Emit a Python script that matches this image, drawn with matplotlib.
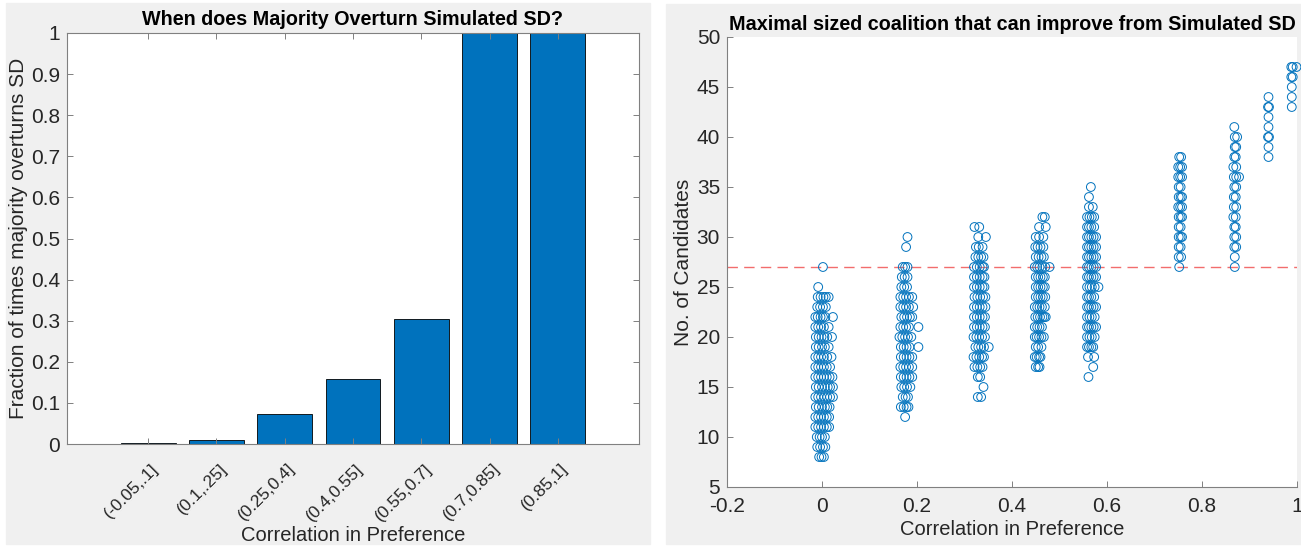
import numpy as np
import matplotlib
matplotlib.use("Agg")
import matplotlib.pyplot as plt
from matplotlib.patches import Rectangle
from matplotlib.transforms import ScaledTranslation

plt.rcParams['font.family'] = ['Liberation Sans', 'DejaVu Sans']

# left chart: fraction of times majority overturns SD
bins = ['(-0.05,.1]', '(0.1,.25]', '(0.25,0.4]', '(0.4,0.55]',
        '(0.55,0.7]', '(0.7,0.85]', '(0.85,1]']
frac = [0.0025, 0.009, 0.072, 0.158, 0.303, 1.0, 1.0]

# right chart: (candidates, [correlation values]) rows per cluster
c1 = [(8, [-0.006, -0.001, 0.004]),
      (9, [-0.010, -0.004, 0.002, 0.007]),
      (10, [-0.011, -0.005, 0.000, 0.006]),
      (11, [-0.014, -0.008, -0.002, 0.004, 0.010, 0.015]),
      (12, [-0.014, -0.008, -0.002, 0.004, 0.010, 0.015]),
      (13, [-0.013, -0.007, 0.000, 0.006, 0.011, 0.016]),
      (14, [-0.014, -0.008, -0.002, 0.005, 0.011, 0.017, 0.023]),
      (15, [-0.013, -0.007, 0.000, 0.006, 0.012, 0.017, 0.023]),
      (16, [-0.014, -0.008, -0.002, 0.004, 0.010, 0.016, 0.022]),
      (17, [-0.014, -0.008, -0.002, 0.004, 0.010, 0.017]),
      (18, [-0.014, -0.008, -0.002, 0.004, 0.011, 0.020]),
      (19, [-0.013, -0.007, 0.000, 0.006, 0.014]),
      (20, [-0.013, -0.007, -0.001, 0.005, 0.011, 0.021]),
      (21, [-0.014, -0.008, -0.002, 0.004, 0.014]),
      (22, [-0.014, -0.009, -0.003, 0.002, 0.007, 0.023]),
      (23, [-0.010, -0.004, 0.002, 0.008]),
      (24, [-0.009, -0.003, 0.003, 0.008, 0.014]),
      (25, [-0.008]),
      (27, [0.002])]
c2 = [(12, [0.175]),
      (13, [0.166, 0.172, 0.178, 0.182]),
      (14, [0.170, 0.176, 0.181]),
      (15, [0.167, 0.173, 0.179, 0.186]),
      (16, [0.166, 0.172, 0.178, 0.184, 0.190]),
      (17, [0.165, 0.171, 0.177, 0.183, 0.190]),
      (18, [0.166, 0.172, 0.178, 0.184, 0.190]),
      (19, [0.166, 0.172, 0.178, 0.184, 0.203]),
      (20, [0.163, 0.169, 0.175, 0.181, 0.188]),
      (21, [0.165, 0.171, 0.177, 0.183, 0.203]),
      (22, [0.167, 0.173, 0.179, 0.185, 0.190]),
      (23, [0.165, 0.171, 0.177, 0.183, 0.192]),
      (24, [0.165, 0.171, 0.177, 0.183, 0.190]),
      (25, [0.167, 0.173, 0.179]),
      (26, [0.168, 0.174, 0.180]),
      (27, [0.170, 0.175, 0.180]),
      (29, [0.177]),
      (30, [0.180])]
c3 = [(14, [0.328, 0.335]),
      (15, [0.340]),
      (16, [0.328, 0.333]),
      (17, [0.321, 0.327, 0.333, 0.338]),
      (18, [0.319, 0.325, 0.331, 0.337, 0.341]),
      (19, [0.323, 0.329, 0.335, 0.341, 0.351]),
      (20, [0.319, 0.325, 0.331, 0.337, 0.343]),
      (21, [0.320, 0.326, 0.332, 0.338, 0.343]),
      (22, [0.320, 0.326, 0.332, 0.338, 0.343]),
      (23, [0.320, 0.326, 0.332, 0.338, 0.344]),
      (24, [0.321, 0.327, 0.333, 0.339, 0.344]),
      (25, [0.320, 0.326, 0.332, 0.338, 0.342]),
      (26, [0.320, 0.326, 0.332, 0.338, 0.342]),
      (27, [0.320, 0.326, 0.332, 0.338, 0.341]),
      (28, [0.323, 0.329, 0.335, 0.340]),
      (29, [0.324, 0.330, 0.338]),
      (30, [0.329, 0.345]),
      (31, [0.321, 0.331])]
c4 = [(17, [0.450, 0.455, 0.458]),
      (18, [0.448, 0.452, 0.457, 0.460]),
      (19, [0.450, 0.455, 0.462]),
      (20, [0.448, 0.452, 0.457, 0.462, 0.467]),
      (21, [0.448, 0.453, 0.458, 0.463]),
      (22, [0.449, 0.454, 0.459, 0.464, 0.468, 0.471]),
      (23, [0.448, 0.453, 0.458, 0.463, 0.469]),
      (24, [0.450, 0.455, 0.460, 0.465, 0.470]),
      (25, [0.450, 0.455, 0.460, 0.465, 0.469]),
      (26, [0.450, 0.455, 0.460, 0.465, 0.469]),
      (27, [0.448, 0.453, 0.458, 0.464, 0.470, 0.479]),
      (28, [0.450, 0.456, 0.462, 0.467]),
      (29, [0.449, 0.454, 0.460, 0.466]),
      (30, [0.450, 0.457, 0.466]),
      (31, [0.457, 0.471]),
      (32, [0.464, 0.469])]
c5 = [(16, [0.561]),
      (17, [0.571]),
      (18, [0.560, 0.573]),
      (19, [0.558, 0.562, 0.567, 0.571]),
      (20, [0.558, 0.563, 0.568, 0.574]),
      (21, [0.558, 0.562, 0.567, 0.572, 0.577]),
      (22, [0.558, 0.563, 0.568, 0.574]),
      (23, [0.558, 0.562, 0.567, 0.572, 0.577]),
      (24, [0.558, 0.562, 0.567, 0.573]),
      (25, [0.558, 0.563, 0.568, 0.574, 0.582]),
      (26, [0.558, 0.562, 0.567, 0.572, 0.577]),
      (27, [0.558, 0.562, 0.567, 0.572, 0.577]),
      (28, [0.558, 0.562, 0.567, 0.572, 0.577]),
      (29, [0.558, 0.562, 0.567, 0.572, 0.577]),
      (30, [0.558, 0.562, 0.567, 0.572, 0.577]),
      (31, [0.558, 0.562, 0.567, 0.573]),
      (32, [0.558, 0.563, 0.568, 0.573]),
      (33, [0.562, 0.570]),
      (34, [0.562]),
      (35, [0.566])]
c6 = [(27, [0.752]), (28, [0.751, 0.756]), (29, [0.751, 0.755]),
      (30, [0.751, 0.755, 0.758]), (31, [0.751, 0.755]),
      (32, [0.751, 0.755, 0.758]), (33, [0.750, 0.754, 0.758]),
      (34, [0.751, 0.755, 0.758]), (35, [0.751, 0.755]),
      (36, [0.750, 0.754, 0.758]), (37, [0.750, 0.754, 0.758]),
      (38, [0.752, 0.756])]
c7 = [(27, [0.869]), (28, [0.869]), (29, [0.868, 0.872]),
      (30, [0.868, 0.872]), (31, [0.868, 0.871]), (32, [0.866, 0.871]),
      (33, [0.867, 0.872]), (34, [0.867, 0.871]), (35, [0.868, 0.872]),
      (36, [0.867, 0.872, 0.878]), (37, [0.866, 0.872]),
      (38, [0.868, 0.871]), (39, [0.869, 0.872]), (40, [0.869, 0.874]),
      (41, [0.868])]
c8 = [(38, [0.940]), (39, [0.940]), (40, [0.939, 0.941]), (41, [0.940]),
      (42, [0.940]), (43, [0.939, 0.941]), (44, [0.940])]
c9 = [(43, [0.989]), (44, [0.989]), (45, [0.989]), (46, [0.988, 0.991]),
      (47, [0.988, 0.991, 0.999])]
threshold = 27

blue = '#0072BD'
txt = '#262626'
axc = '#808080'

fig = plt.figure(figsize=(13.01, 5.46), dpi=100)
fig.patch.set_facecolor('white')
W, H = 1301, 546
fig.patches.append(Rectangle((6 / W, 2 / H), 644 / W, 541 / H,
                             transform=fig.transFigure, color='#f0f0f0', zorder=-10))
fig.patches.append(Rectangle((666 / W, 2 / H), 635 / W, 540 / H,
                             transform=fig.transFigure, color='#f0f0f0', zorder=-10))


def style(ax):
    for s in ax.spines.values():
        s.set_color(axc)
        s.set_linewidth(0.8)
    ax.tick_params(direction='in', length=4, width=0.7, color=axc,
                   labelcolor=txt, labelsize=15)


# ---- left: bar chart
ax1 = fig.add_axes([67 / W, 102 / H, 572 / W, 411 / H])
pos = np.arange(1, len(bins) + 1)
ax1.bar(pos, frac, width=0.8, color=blue, edgecolor='black', linewidth=0.6)
ax1.set_xlim(-0.19, 8.19)
ax1.set_ylim(0, 1)
ax1.set_yticks(np.arange(0, 1.01, 0.1))
ax1.set_yticklabels(['0'] + ['%.1f' % v for v in np.arange(0.1, 0.95, 0.1)] + ['1'])
ax1.set_xticks(pos)
style(ax1)
ax1.set_xticklabels(bins, rotation=45, ha='right', va='center',
                    rotation_mode='anchor')
ax1.tick_params(top=True, right=True)
ax1.tick_params(axis='y', pad=5)
ax1.tick_params(axis='x', pad=16, labelsize=12.5)
for lab in ax1.get_xticklabels():
    lab.set_transform(lab.get_transform() + ScaledTranslation(0.08, 0, fig.dpi_scale_trans))
ax1.set_title('When does Majority Overturn Simulated SD?', fontsize=14.2,
              fontweight='bold', pad=6)
ax1.set_ylabel('Fraction of times majority overturns SD', fontsize=15, color=txt)
ax1.yaxis.label.set_va('center')
ax1.yaxis.set_label_coords(-0.084, 0.5)
ax1.set_xlabel('Correlation in Preference', fontsize=14.5, color=txt)
ax1.xaxis.label.set_va('center')
ax1.xaxis.set_label_coords(0.5, -0.222)

# ---- right: scatter
ax2 = fig.add_axes([727 / W, 59 / H, 570 / W, 450 / H])
xs, ys = [], []
for cl in [c1, c2, c3, c4, c5, c6, c7, c8, c9]:
    for yv, xl in cl:
        for xv in xl:
            xs.append(xv)
            ys.append(yv)
ax2.scatter(xs, ys, s=40, facecolors='none', edgecolors=blue, linewidths=0.7,
            clip_on=False, zorder=3)
ax2.axhline(threshold, color='#f26d6d', linewidth=1.0, dashes=(7.5, 4.5), zorder=2)
ax2.set_xlim(-0.2, 1)
ax2.set_ylim(5, 50)
ax2.set_xticks(np.arange(-0.2, 1.01, 0.2))
ax2.set_xticklabels(['-0.2', '0', '0.2', '0.4', '0.6', '0.8', '1'])
ax2.set_yticks(np.arange(5, 51, 5))
style(ax2)
ax2.spines['top'].set_visible(False)
ax2.spines['right'].set_visible(False)
ax2.tick_params(axis='y', pad=5)
ax2.tick_params(axis='x', pad=7)
ax2.set_title('Maximal sized coalition that can improve from Simulated SD',
              fontsize=14.2, fontweight='bold', pad=5)
ax2.set_ylabel('No. of Candidates', fontsize=15, color=txt)
ax2.yaxis.label.set_va('center')
ax2.yaxis.set_label_coords(-0.077, 0.5)
ax2.set_xlabel('Correlation in Preference', fontsize=14.5, color=txt)
ax2.xaxis.label.set_va('center')
ax2.xaxis.set_label_coords(0.5, -0.095)

fig.savefig('out.png', dpi=100, facecolor='white')
